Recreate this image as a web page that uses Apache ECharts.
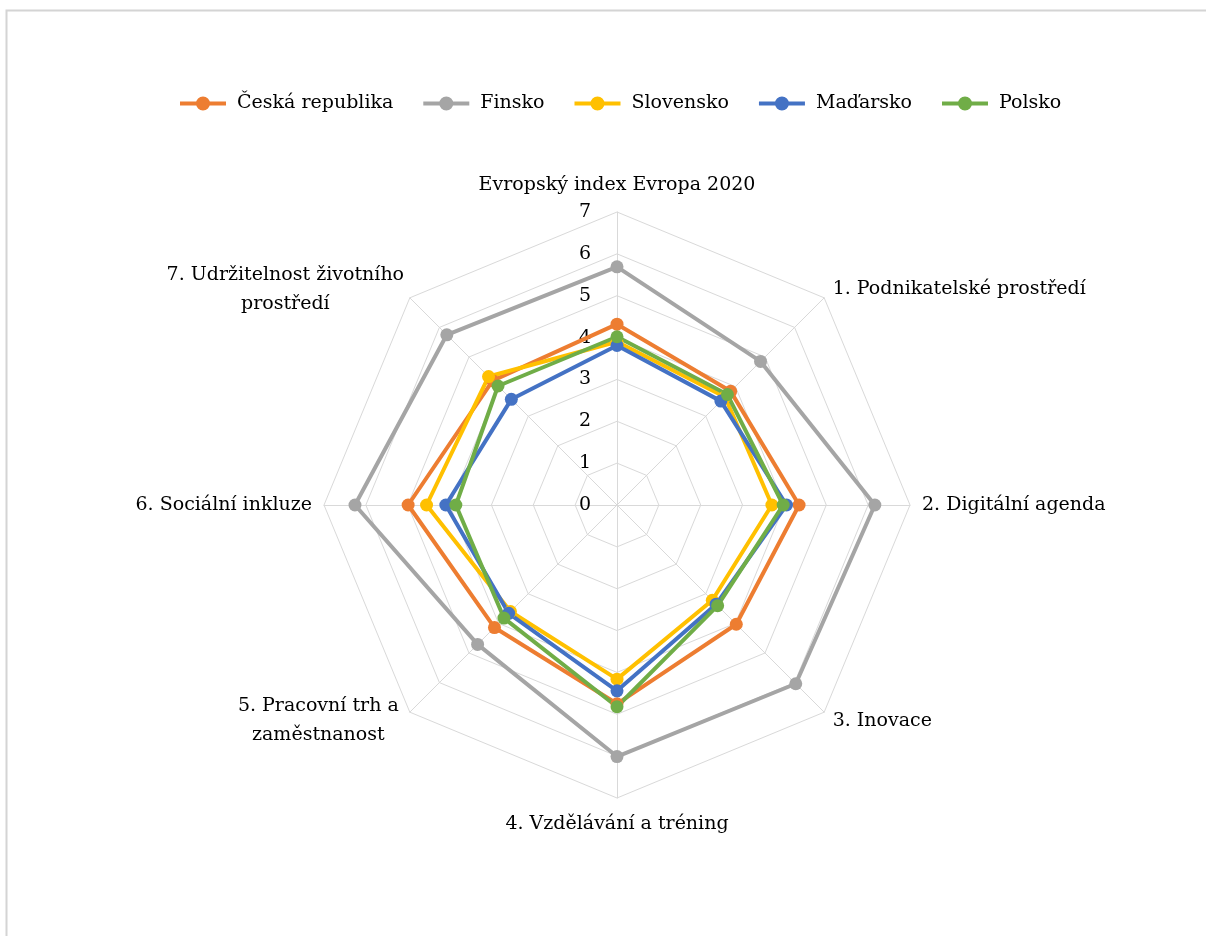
<!DOCTYPE html>
<html>
<head>
<meta charset="utf-8">
<script src="https://cdn.jsdelivr.net/npm/echarts@6/dist/echarts.min.js"></script>
<style>
html,body{margin:0;padding:0;background:#fff;}
#chart{width:1206px;height:936px;}
</style>
</head>
<body>
<div id="chart"></div>
<script>
const indicators = [
  'Evropský index Evropa 2020',
  '1. Podnikatelské prostředí',
  '2. Digitální agenda',
  '3. Inovace',
  '4. Vzdělávání a tréning',
  '{w160|5. Pracovní trh a}\n{w160|zaměstnanost}',
  '6. Sociální inkluze',
  '{w220|7. Udržitelnost životního}\n{w220|prostředí}'
];
const seriesNames = ['Česká republika', 'Finsko', 'Slovensko', 'Maďarsko', 'Polsko'];
const ceskaRepublika = [4.32, 3.84, 4.35, 4.03, 4.75, 4.14, 4.99, 4.2];
const finsko        = [5.69, 4.85, 6.16, 6.04, 6.01, 4.71, 6.26, 5.75];
const slovensko     = [3.9, 3.65, 3.70, 3.22, 4.16, 3.6, 4.55, 4.34];
const madarsko      = [3.81, 3.51, 4.05, 3.35, 4.44, 3.66, 4.09, 3.57];
const polsko        = [4.02, 3.73, 3.97, 3.40, 4.82, 3.82, 3.85, 4.02];
const colors = ['#ED7D31', '#A5A5A5', '#FFC000', '#4472C4', '#70AD47'];
const values = [ceskaRepublika, finsko, slovensko, madarsko, polsko];

// ECharts radar runs counter-clockwise; reorder so the axes run clockwise
const order = [0, 7, 6, 5, 4, 3, 2, 1];
const reorder = arr => order.map(i => arr[i]);

const font = '"DejaVu Serif", "Liberation Serif", serif';
const fs = 19;
const iconPath = 'path://M0,5L46,5L46,9L0,9Z M16,7a7,7 0 1,1 14,0a7,7 0 1,1 -14,0Z';
const chart = echarts.init(document.getElementById('chart'));
chart.setOption({
  backgroundColor: '#fff',
  color: colors,
  graphic: [{
    type: 'rect', left: 4, top: 8, shape: {width: 1300, height: 1000},
    style: {fill: 'none', stroke: '#d4d4d4', lineWidth: 2}, silent: true
  }],
  legend: {
    top: 89, left: 175,
    itemWidth: 46, itemHeight: 14, itemGap: 30,
    textStyle: {fontFamily: font, fontSize: fs, color: '#000', padding: [0, 0, 0, 6]},
    data: seriesNames.map(n => ({name: n, icon: iconPath}))
  },
  radar: {
    center: [617, 505],
    radius: 293,
    shape: 'polygon',
    splitNumber: 7,
    startAngle: 90,
    indicator: reorder(indicators).map((n, i) => i === 0
      ? {name: n, min: 0, max: 7, axisLabel: {show: true}}
      : {name: n, min: 0, max: 7}),
    axisName: {
      fontFamily: font, fontSize: fs, color: '#000', lineHeight: 29,
      rich: {
        w160: {width: 166, align: 'center', fontFamily: font, fontSize: fs, color: '#000', lineHeight: 29},
        w220: {width: 232, align: 'center', fontFamily: font, fontSize: fs, color: '#000', lineHeight: 29}
      }
    },
    nameGap: 12,
    axisLine: {lineStyle: {color: '#d9d9d9', width: 1}},
    splitLine: {lineStyle: {color: '#d9d9d9', width: 1}},
    splitArea: {show: false},
    axisTick: {show: false},
    axisLabel: {show: false, fontFamily: font, fontSize: fs, color: '#000', margin: 26}
  },
  series: [{
    type: 'radar',
    symbol: 'circle',
    symbolSize: 13,
    data: seriesNames.map((n, i) => ({
      name: n,
      value: reorder(values[i]),
      lineStyle: {width: 4, color: colors[i]},
      itemStyle: {color: colors[i]}
    }))
  }]
});
</script>
</body>
</html>
